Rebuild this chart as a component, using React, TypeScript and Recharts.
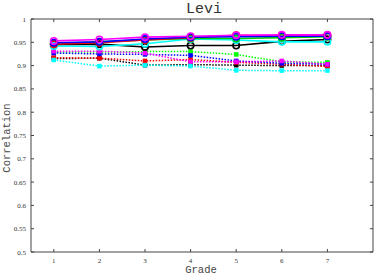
import React from 'react';
import { LineChart, Line, XAxis, YAxis, ReferenceLine } from 'recharts';

const grades = [1, 2, 3, 4, 5, 6, 7];
const yTicks = [0.5, 0.55, 0.6, 0.65, 0.7, 0.75, 0.8, 0.85, 0.9, 0.95, 1];

// solid series
const blackSolid = [0.945, 0.946, 0.940, 0.943, 0.943, 0.952, 0.956];
const redSolid = [0.946, 0.949, 0.955, 0.960, 0.965, 0.964, 0.965];
const greenSolid = [0.947, 0.951, 0.955, 0.958, 0.958, 0.960, 0.962];
const blueSolid = [0.949, 0.951, 0.957, 0.961, 0.962, 0.963, 0.963];
const magentaSolid = [0.953, 0.956, 0.961, 0.963, 0.965, 0.966, 0.966];
const cyanSolid = [0.942, 0.941, 0.947, 0.957, 0.955, 0.951, 0.951];

// dotted series
const blackDot = [0.915, 0.916, 0.901, 0.902, 0.901, 0.900, 0.900];
const redDot = [0.917, 0.916, 0.910, 0.913, 0.907, 0.903, 0.898];
const greenDot = [0.929, 0.929, 0.930, 0.930, 0.924, 0.908, 0.907];
const blueDot = [0.927, 0.925, 0.924, 0.922, 0.910, 0.905, 0.903];
const magentaDot = [0.931, 0.931, 0.927, 0.908, 0.908, 0.910, 0.903];
const cyanDot = [0.912, 0.899, 0.901, 0.899, 0.890, 0.889, 0.889];

const series = [
  { key: 'blackDot', values: blackDot, color: '#000000', dotted: true },
  { key: 'redDot', values: redDot, color: '#ff0000', dotted: true },
  { key: 'greenDot', values: greenDot, color: '#00ff00', dotted: true },
  { key: 'blueDot', values: blueDot, color: '#0000ff', dotted: true },
  { key: 'magentaDot', values: magentaDot, color: '#ff00ff', dotted: true },
  { key: 'cyanDot', values: cyanDot, color: '#00ffff', dotted: true },
  { key: 'blackSolid', values: blackSolid, color: '#000000', dotted: false },
  { key: 'cyanSolid', values: cyanSolid, color: '#00ffff', dotted: false },
  { key: 'greenSolid', values: greenSolid, color: '#00cc00', dotted: false },
  { key: 'redSolid', values: redSolid, color: '#ff0000', dotted: false },
  { key: 'blueSolid', values: blueSolid, color: '#0000ff', dotted: false },
  { key: 'magentaSolid', values: magentaSolid, color: '#ff00ff', dotted: false },
];

const X_MIN = 0.5;
const X_MAX = 8;
const Y_MIN = 0.5;
const Y_MAX = 1;

const data = grades.map((g, i) => {
  const row: Record<string, number> = { grade: g };
  series.forEach((s) => {
    row[s.key] = s.values[i];
  });
  return row;
});

const AXIS = '#444444';
const TICKFONT = { fontFamily: '"Liberation Serif", serif', fontSize: 7, fill: '#333333' };
const LABELFONT = '"Liberation Mono", monospace';

const LeftTick = (props: any) => {
  const { x, y, payload } = props;
  return (
    <g>
      <line x1={x} y1={y} x2={x + 3} y2={y} stroke={AXIS} strokeWidth={1} />
      <text x={x - 5} y={y + 2.5} textAnchor="end" {...TICKFONT}>
        {String(payload.value)}
      </text>
    </g>
  );
};

const BottomTick = (props: any) => {
  const { x, y, payload } = props;
  return (
    <g>
      <line x1={x} y1={y} x2={x} y2={y - 3} stroke={AXIS} strokeWidth={1} />
      <text x={x} y={y + 11} textAnchor="middle" {...TICKFONT}>
        {String(payload.value)}
      </text>
    </g>
  );
};

const makeSquare = (color: string) => (props: any) => {
  const { cx, cy, index } = props;
  if (cx == null || cy == null) return <g key={index} />;
  return <rect key={index} x={cx - 2} y={cy - 2} width={4} height={4} fill={color} stroke={color} strokeWidth={0.5} />;
};

const makeCircle = (color: string) => (props: any) => {
  const { cx, cy, index } = props;
  if (cx == null || cy == null) return <g key={index} />;
  return <circle key={index} cx={cx} cy={cy} r={3.2} fill="none" stroke={color} strokeWidth={1.6} />;
};

// tick length in data units on mirrored sides
const X_TICK_LEN = 0.066;
const Y_TICK_LEN = 0.0065;

export default function App() {
  return (
    <div style={{ position: 'absolute', left: 0, top: 0, width: 374, height: 276, background: '#fff' }}>
      <LineChart
        width={374}
        height={276}
        data={data}
        margin={{ top: 19, right: 1, left: 0, bottom: 0 }}
      >
        <XAxis
          dataKey="grade"
          type="number"
          domain={[X_MIN, X_MAX]}
          ticks={grades}
          height={24}
          tickSize={0}
          tickMargin={0}
          stroke={AXIS}
          tick={<BottomTick />}
          tickLine={false}
          allowDataOverflow
        />
        <YAxis
          type="number"
          domain={[Y_MIN, Y_MAX]}
          ticks={yTicks}
          width={31}
          tickSize={0}
          tickMargin={0}
          stroke={AXIS}
          tick={<LeftTick />}
          tickLine={false}
          interval={0}
          allowDataOverflow
        />
        <ReferenceLine x={X_MAX} stroke={AXIS} strokeWidth={1} ifOverflow="visible" />
        <ReferenceLine y={Y_MAX} stroke={AXIS} strokeWidth={1} ifOverflow="visible" />
        {yTicks.map((t) => (
          <ReferenceLine
            key={'ry' + t}
            segment={[
              { x: X_MAX - X_TICK_LEN, y: t },
              { x: X_MAX, y: t },
            ]}
            stroke={AXIS}
            strokeWidth={1}
            ifOverflow="visible"
          />
        ))}
        {grades.map((g) => (
          <ReferenceLine
            key={'tx' + g}
            segment={[
              { x: g, y: Y_MAX - Y_TICK_LEN },
              { x: g, y: Y_MAX },
            ]}
            stroke={AXIS}
            strokeWidth={1}
            ifOverflow="visible"
          />
        ))}
        {series.map((s) => (
          <Line
            key={s.key}
            dataKey={s.key}
            stroke={s.color}
            strokeWidth={s.dotted ? 1.5 : 1.6}
            strokeDasharray={s.dotted ? '1.5 1.5' : undefined}
            dot={s.dotted ? makeSquare(s.color) : makeCircle(s.color)}
            isAnimationActive={false}
            type="linear"
          />
        ))}
      </LineChart>
      <svg
        width={374}
        height={276}
        style={{ position: 'absolute', left: 0, top: 0, pointerEvents: 'none' }}
      >
        <text x={204} y={13} textAnchor="middle" fontFamily={LABELFONT} fontSize={15} fill="#333">
          Levi
        </text>
        <text x={201} y={273} textAnchor="middle" fontFamily={LABELFONT} fontSize={10.5} fill="#444">
          Grade
        </text>
        <text
          x={0}
          y={0}
          transform="translate(10,138) rotate(-90)"
          textAnchor="middle"
          fontFamily={LABELFONT}
          fontSize={10.5}
          fill="#444"
        >
          Correlation
        </text>
      </svg>
    </div>
  );
}
